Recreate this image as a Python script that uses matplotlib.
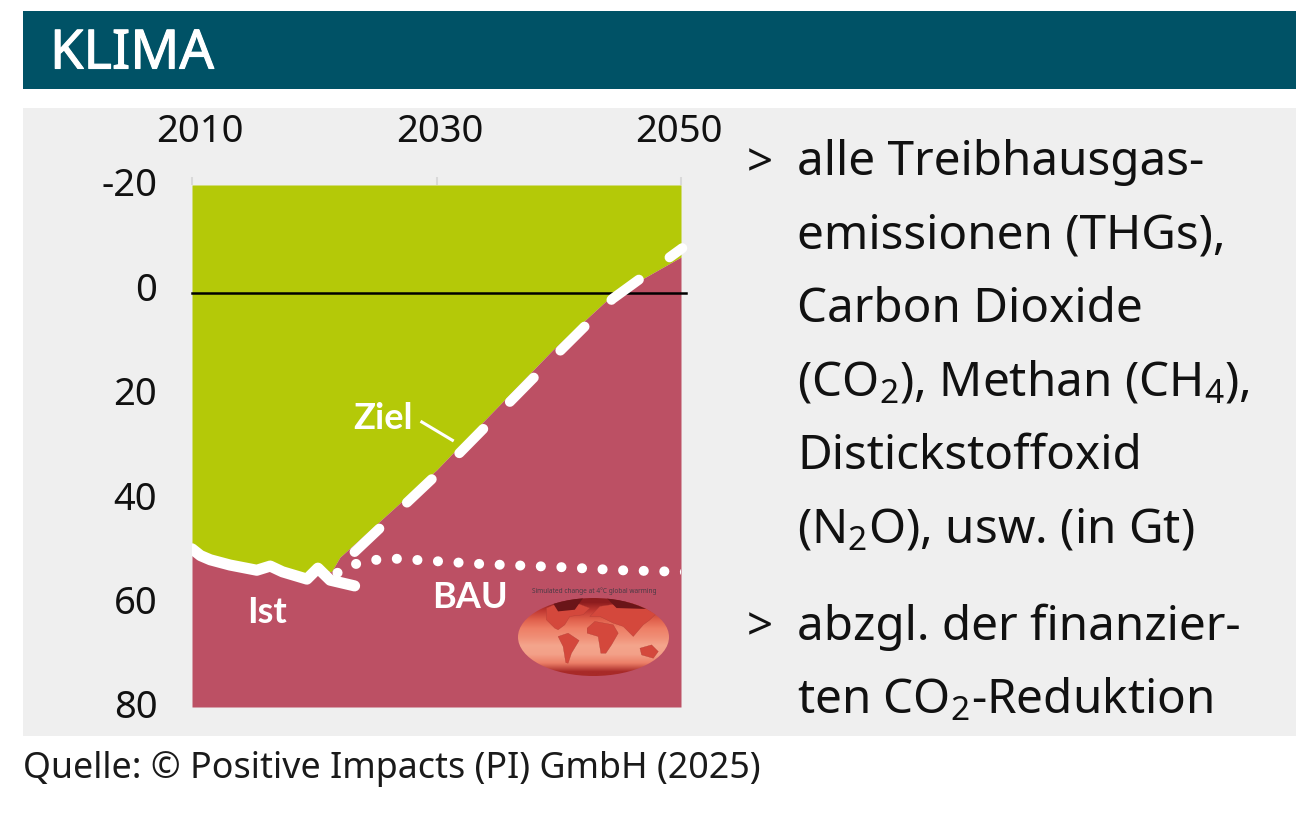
import matplotlib
matplotlib.use('Agg')
import matplotlib.pyplot as plt
import matplotlib.patheffects as pe
import numpy as np
from matplotlib.patches import Rectangle, Ellipse, Polygon
from matplotlib.colors import to_rgb
from matplotlib.transforms import ScaledTranslation

plt.rcParams['font.family'] = ['Noto Sans', 'DejaVu Sans']
plt.rcParams['mathtext.default'] = 'regular'

W, H = 1301, 839

# Daten
jahre_ticks = [2010, 2030, 2050]
y_ticks = [-20, 0, 20, 40, 60, 80]

ist_jahre = [2010, 2010.7, 2011.5, 2013.1, 2015.3, 2016.4, 2017.4, 2019.4, 2020.3, 2021.3, 2023.3]
ist_werte = [49.7, 51.0, 51.8, 52.8, 53.8, 53.0, 54.1, 55.5, 53.4, 55.7, 56.8]

grenze_jahre = [2010, 2010.7, 2011.5, 2013.1, 2015.3, 2016.4, 2017.4, 2019.4, 2020.3, 2021.4, 2022.1, 2030.0, 2039.5, 2044.2, 2050]
grenze_werte = [49.7, 51.0, 51.8, 52.8, 53.8, 53.0, 54.1, 55.5, 53.4, 54.1, 51.3, 34.6, 11.6, 1.5, -6.2]

ziel_jahre = [2023.3, 2031.9, 2040.1, 2044.4, 2050.1]
ziel_werte = [50.3, 31.3, 11.8, 1.8, -7.9]

bau_jahre = [2021.9, 2023.4, 2025.1, 2026.8, 2033.6, 2040.1, 2045, 2050, 2051]
bau_werte = [54.3, 52.6, 51.8, 51.6, 52.6, 53.2, 53.8, 54.1, 54.2]

null_linie = 0.75

text_zeilen = ['alle Treibhausgas-', 'emissionen (THGs),', 'Carbon Dioxide',
               '(CO$_2$), Methan (CH$_4$),', 'Distickstoffoxid',
               '(N$_2$O), usw. (in Gt)', 'abzgl. der finanzier-', 'ten CO$_2$-Reduktion']
text_y = [157, 231, 304, 378, 451, 525, 622, 695]
pfeil_y = [164, 628]

gruen = '#b4c908'
rot = '#bc5064'
petrol = '#005266'
grau = '#efefef'


def fx(x):
    return x / W


def fy(y):
    return 1 - y / H


fig = plt.figure(figsize=(W / 100, H / 100), dpi=100, facecolor='white')
fig.add_artist(Rectangle((fx(23), fy(89)), 1273 / W, 78 / H, transform=fig.transFigure, color=petrol, lw=0, zorder=-2))
fig.add_artist(Rectangle((fx(23), fy(736)), 1273 / W, 628 / H, transform=fig.transFigure, color=grau, lw=0, zorder=-2))

fig.text(fx(50), fy(54), 'KLIMA', color='white', fontsize=39, va='center', ha='left',
         path_effects=[pe.withStroke(linewidth=0.8, foreground='white')])
fig.text(fx(23), fy(769), 'Quelle: © Positive Impacts (PI) GmbH (2025)', color='#1a1a1a', fontsize=25.8, va='center', ha='left')

for s, y in zip(text_zeilen, text_y):
    fig.text(fx(797), fy(y), s, color='#111111', fontsize=34.3, va='center_baseline', ha='left')
for y in pfeil_y:
    fig.text(fx(747), fy(y), '>', color='#111111', fontsize=33, va='center', ha='left')

# Diagramm
ax = fig.add_axes([fx(192), fy(707), 489 / W, 522 / H])
ax.patch.set_alpha(0)
ax.fill_between(grenze_jahre, -20, grenze_werte, color=gruen, lw=0)
ax.fill_between(grenze_jahre, grenze_werte, 80, color=rot, lw=0)
ax.set_xlim(2010, 2050)
ax.set_ylim(80, -20)

ax.plot([2010, 2050.4], [null_linie, null_linie], color='black', lw=1.8, clip_on=False, zorder=3)
ax.plot(ist_jahre, ist_werte, color='white', lw=8, solid_capstyle='round', solid_joinstyle='round', zorder=4)
ax.plot(ziel_jahre, ziel_werte, color='white', lw=7.2, dash_capstyle='round', linestyle=(0, (3.4, 3.8)), clip_on=False, zorder=4)
ax.plot(bau_jahre, bau_werte, color='white', lw=7.2, dash_capstyle='round', linestyle=(0, (0.01, 2.05)), zorder=4)
ax.plot([2028.8, 2031.3], [25.4, 28.9], color='white', lw=2.2, zorder=4)

ax.text(2025.65, 24.7, 'Ziel', color='white', fontsize=26, fontweight='bold', family='Lato', ha='center', va='center')
ax.text(2016.1, 61.9, 'Ist', color='white', fontsize=26, fontweight='bold', family='Lato', ha='center', va='center')
ax.text(2032.7, 59.0, 'BAU', color='white', fontsize=26, fontweight='bold', family='Lato', ha='center', va='center')

ax.xaxis.tick_top()
ax.set_xticks(jahre_ticks)
ax.set_xticklabels([str(j) for j in jahre_ticks], fontsize=27.5, color='#111111')
ax.set_yticks(y_ticks)
ax.set_yticklabels([str(v) for v in y_ticks], fontsize=27.5, color='#111111')
ax.tick_params(axis='x', length=5.5, width=1.5, color='#d9d9d9', pad=19)
ax.tick_params(axis='y', length=0, pad=25)
for s in ax.spines.values():
    s.set_visible(False)

# Beschriftungen leicht versetzt wie im Original
for lab, dx in zip(ax.get_xticklabels(), [8, 3, -2]):
    lab.set_transform(lab.get_transform() + ScaledTranslation(dx / 100, 0, fig.dpi_scale_trans))
for lab in ax.get_yticklabels():
    lab.set_transform(lab.get_transform() + ScaledTranslation(0, 3 / 100, fig.dpi_scale_trans))

# kleine Weltkarte
karte = fig.add_axes([fx(518), fy(676), 151 / W, 78 / H])
karte.set_xlim(55, 507)
karte.set_ylim(318, 85)
karte.axis('off')
band_farben = ['#8c1c1e', '#c23a33', '#e0604c', '#ee7f66', '#f08e76', '#f4a58c', '#f3a088', '#ec7f68', '#a82a28']
band_bild = np.array([[to_rgb(c)] for c in band_farben])
bild = karte.imshow(band_bild, extent=(55, 507, 318, 85), aspect='auto', interpolation='bilinear')
rand = Ellipse((281, 201.5), 452, 233, transform=karte.transData, facecolor='none', edgecolor='none')
karte.add_patch(rand)
bild.set_clip_path(rand)

kontinente = {
    'nordamerika': [(140, 115), (175, 100), (230, 100), (270, 115), (250, 135), (210, 140), (195, 165), (175, 180), (165, 175), (140, 150)],
    'suedamerika': [(175, 200), (205, 190), (238, 212), (215, 250), (205, 280), (198, 278), (190, 230)],
    'afrika': [(262, 175), (285, 155), (340, 165), (355, 190), (335, 225), (318, 250), (303, 250), (295, 200), (262, 190)],
    'eurasien': [(270, 140), (300, 110), (400, 95), (480, 120), (450, 150), (430, 165), (400, 200), (370, 170), (340, 160), (300, 140)],
    'australien': [(420, 235), (455, 225), (475, 245), (460, 265), (425, 255)],
}
for name, punkte in kontinente.items():
    p = Polygon(punkte, closed=True, facecolor='#d4483c', edgecolor='#a83a34', lw=0.2)
    karte.add_patch(p)
    p.set_clip_path(rand)
arktis = [[(150, 85), (250, 85), (225, 120), (175, 125)], [(320, 85), (470, 85), (450, 118), (350, 115)]]
for punkte in arktis:
    p = Polygon(punkte, closed=True, facecolor='#6a1518', lw=0)
    karte.add_patch(p)
    p.set_clip_path(rand)

fig.text(fx(594), fy(591), 'Simulated change at 4°C global warming', color='#4a3a45', fontsize=4.7, ha='center', va='center')

fig.savefig('out.png', dpi=100)
